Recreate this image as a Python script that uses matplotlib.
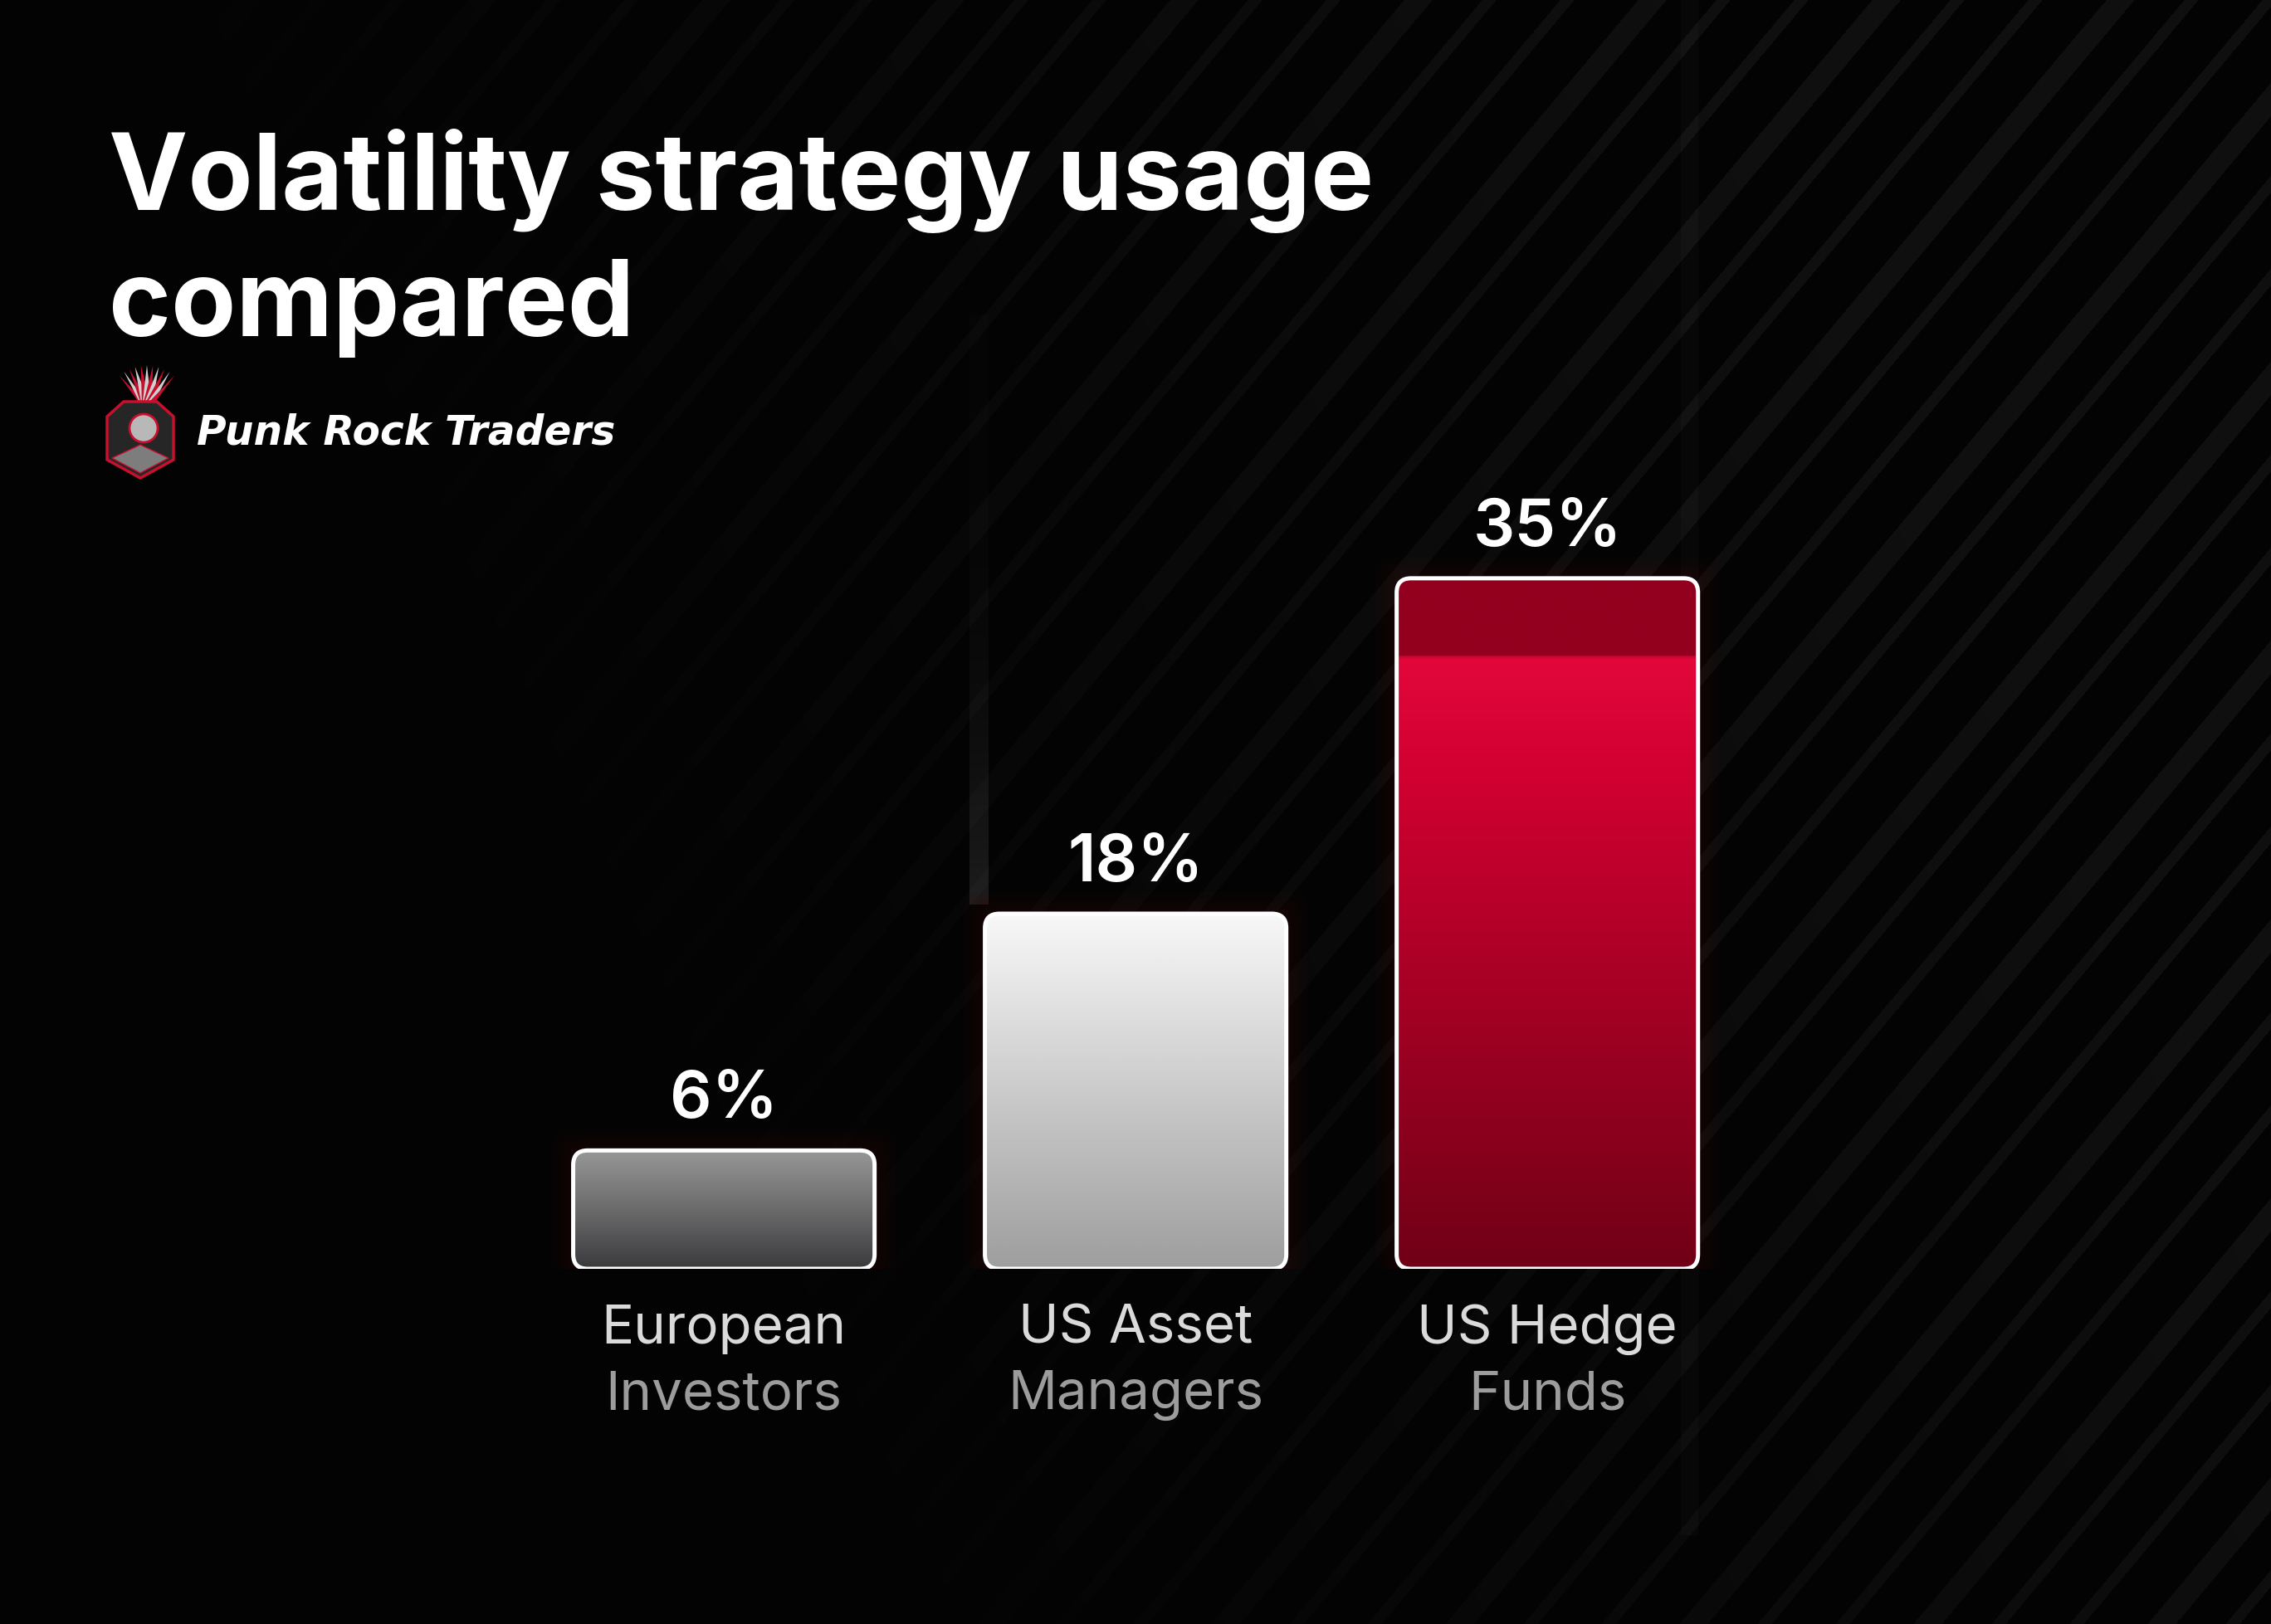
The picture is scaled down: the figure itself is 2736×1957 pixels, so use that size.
import numpy as np
import matplotlib.pyplot as plt
from matplotlib.patches import FancyBboxPatch, Polygon, Circle
from matplotlib.colors import LinearSegmentedColormap

# data
cat_line1 = ['European', 'US Asset', 'US Hedge']
cat_line2 = ['Investors', 'Managers', 'Funds']
values = [6, 18, 35]
value_labels = ['6%', '18%', '35%']
title_lines = ['Volatility strategy usage', 'compared']
brand = 'Punk Rock Traders'

# bar gradients, top -> bottom
bar_grads = [
    [(0.0, '#979797'), (0.5, '#6b6b6c'), (1.0, '#3a3a3d')],
    [(0.0, '#f8f8f8'), (1.0, '#9e9e9e')],
    [(0.0, '#93001f'), (0.11, '#93001f'), (0.115, '#e3073a'),
     (0.3, '#cf0030'), (1.0, '#700016')],
]

W, H = 2736, 1958
fig = plt.figure(figsize=(W / 100, H / 100), dpi=100)
fig.patch.set_facecolor('#030303')

# background with faint diagonal stripes
bg = fig.add_axes([0, 0, 1, 1])
bg.set_axis_off()
yy, xx = np.mgrid[0:H, 0:W].astype(float)
th = np.deg2rad(50)
u = xx * np.sin(th) + yy * np.cos(th)
period = 72
band = np.floor(u / period)
wid = np.where(np.mod(band, 3) == 0, 26, 13)
stripe = (np.mod(u, period) < wid).astype(float)
mask = np.clip(1.35 * xx / W - 0.5 + 0.45 * (1 - yy / H), 0, 1)
img = 0.012 + 0.05 * stripe * mask
# faint vertical light columns
col = (xx >= 1168) & (xx <= 1190) & (yy >= 380) & (yy <= 1090)
t = np.clip((yy - 380) / 700, 0, 1)
img = img + col * (0.008 + 0.09 * t ** 3)
col2 = (xx >= 2025) & (xx <= 2045) & (yy <= 1850)
img = img + col2 * 0.018
bg.imshow(img, cmap='gray', vmin=0, vmax=1, extent=(0, W, H, 0), aspect='auto', interpolation='bilinear')
bg.set_xlim(0, W)
bg.set_ylim(H, 0)

# logo badge
cx, cy = 169, 525
for i, a in enumerate(np.linspace(-40, 40, 11)):
    r = np.deg2rad(a)
    tip = (cx + 8 + 52 * np.sin(r), cy - 32 - 52 * np.cos(r))
    bl = (cx + 8 + 6 * np.cos(r), cy - 32)
    br = (cx + 8 - 6 * np.cos(r), cy - 32)
    bg.add_patch(Polygon([bl, tip, br], closed=True, fc='#d0d0d0' if i % 2 else '#c8102e', ec='none'))
shield = [(cx - 40, cy - 22), (cx - 20, cy - 40), (cx + 20, cy - 40), (cx + 40, cy - 22),
          (cx + 40, cy + 30), (cx, cy + 52), (cx - 40, cy + 30)]
bg.add_patch(Polygon(shield, closed=True, fc='#262626', ec='#c8102e', lw=2.5))
bg.add_patch(Circle((cx + 4, cy - 8), 17, fc='#b8b8b8', ec='#c8102e', lw=2))
bg.add_patch(Polygon([(cx - 34, cy + 28), (cx, cy + 46), (cx + 34, cy + 28), (cx, cy + 12)],
                     closed=True, fc='#7d7d7d', ec='#c8102e', lw=1))

# titles
for i, line in enumerate(title_lines):
    fig.text(0.0479, 0.8708 - i * 0.0776, line, fontsize=92, weight='bold',
             family=['Inter', 'DejaVu Sans'], color='white', va='baseline', ha='left')
fig.text(0.0868, 0.7264, brand, fontsize=35, style='oblique', weight='bold',
         family=['DejaVu Sans'], color='white', va='baseline', ha='left')

# chart
ax = fig.add_axes([0.2281, 0.2186, 0.5439, 0.4857])
ax.set_facecolor('none')
ax.set_axis_off()
x = np.arange(len(values))
bars = ax.bar(x, values, width=0.732, color='none', edgecolor='none')
ax.set_xlim(-0.5, 2.5)
ax.set_ylim(0, 40)
asp = (40 / 951) / (3 / 1488)

for i, rect in enumerate(bars):
    x0, y0 = rect.get_xy()
    w, h = rect.get_width(), rect.get_height()
    # soft glow
    for k in range(14):
        p = 0.004 * (k + 1)
        ax.add_patch(FancyBboxPatch((x0 - p, y0 - p * asp * 1.6), w + 2 * p, h + p * asp * 2.6,
                                    boxstyle='round,pad=0,rounding_size=0.04', mutation_aspect=asp,
                                    fc='#4a0c0c', ec='none', alpha=0.028, zorder=1))
    shape = FancyBboxPatch((x0, y0), w, h, boxstyle='round,pad=0,rounding_size=0.035',
                           mutation_aspect=asp, fc='none', ec='none', zorder=2)
    ax.add_patch(shape)
    cmap = LinearSegmentedColormap.from_list('g%d' % i, bar_grads[i])
    grad = np.linspace(0, 1, 512).reshape(-1, 1)
    im = ax.imshow(grad, cmap=cmap, vmin=0, vmax=1, extent=(x0, x0 + w, y0, y0 + h),
                   origin='upper', aspect='auto', zorder=2, interpolation='bilinear')
    im.set_clip_path(shape)
    ax.add_patch(FancyBboxPatch((x0, y0), w, h, boxstyle='round,pad=0,rounding_size=0.035',
                                mutation_aspect=asp, fc='none', ec='white', lw=3.6, zorder=3))
    xc = x0 + w / 2
    ax.annotate(value_labels[i], xy=(xc, values[i]), xytext=(0, 29), textcoords='offset points',
                ha='center', va='baseline', fontsize=57, weight='semibold',
                family=['Inter', 'DejaVu Sans'], color='white', zorder=4)
    ax.annotate(cat_line1[i], xy=(xc, 0), xytext=(0, -64), textcoords='offset points',
                ha='center', va='baseline', fontsize=47, family=['Inter', 'DejaVu Sans'],
                color='#dadada', zorder=4)
    ax.annotate(cat_line2[i], xy=(xc, 0), xytext=(0, -121), textcoords='offset points',
                ha='center', va='baseline', fontsize=47, family=['Inter', 'DejaVu Sans'],
                color='#9c9c9c', zorder=4)

ax.set_xlim(-0.5, 2.5)
ax.set_ylim(0, 40)

fig.savefig('out.png', dpi=100, facecolor=fig.get_facecolor())
